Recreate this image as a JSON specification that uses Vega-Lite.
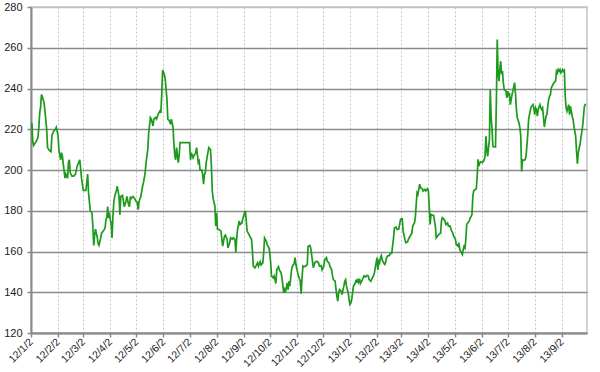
{
"$schema": "https://vega.github.io/schema/vega-lite/v6.json",
"width": 556, "height": 326,
"autosize": {"type": "none"},
"padding": {"left": 31, "top": 7, "right": 13, "bottom": 39},
"background": "white",
"config": {"view": {"stroke": "#c4c4c4", "strokeWidth": 1.5}},
"data": {"values": [
{"date":"2012-01-03","price":223},{"date":"2012-01-04","price":214},{"date":"2012-01-05","price":212},{"date":"2012-01-08","price":214},{"date":"2012-01-10","price":216},{"date":"2012-01-11","price":221},{"date":"2012-01-12","price":228},{"date":"2012-01-13","price":231},{"date":"2012-01-14","price":237},{"date":"2012-01-15","price":236},{"date":"2012-01-17","price":233},{"date":"2012-01-18","price":229},{"date":"2012-01-20","price":220},{"date":"2012-01-21","price":211},{"date":"2012-01-23","price":209.6},{"date":"2012-01-25","price":209},{"date":"2012-01-26","price":217},{"date":"2012-01-28","price":219},{"date":"2012-01-30","price":220},{"date":"2012-01-31","price":221},
{"date":"2012-02-02","price":217},{"date":"2012-02-03","price":210},{"date":"2012-02-05","price":205},{"date":"2012-02-06","price":208.5},{"date":"2012-02-07","price":207},{"date":"2012-02-08","price":203},{"date":"2012-02-10","price":196},{"date":"2012-02-11","price":198},{"date":"2012-02-13","price":196},{"date":"2012-02-14","price":204},{"date":"2012-02-15","price":205},{"date":"2012-02-16","price":198.6},{"date":"2012-02-18","price":197},{"date":"2012-02-20","price":197},{"date":"2012-02-22","price":198},{"date":"2012-02-24","price":202},{"date":"2012-02-26","price":204},{"date":"2012-02-27","price":205},{"date":"2012-02-29","price":196},
{"date":"2012-03-02","price":190},{"date":"2012-03-05","price":190},{"date":"2012-03-07","price":198},{"date":"2012-03-08","price":189},{"date":"2012-03-10","price":180},{"date":"2012-03-12","price":179},{"date":"2012-03-13","price":172},{"date":"2012-03-14","price":163},{"date":"2012-03-15","price":168},{"date":"2012-03-16","price":171},{"date":"2012-03-18","price":167},{"date":"2012-03-19","price":164},{"date":"2012-03-20","price":163},{"date":"2012-03-22","price":166.6},{"date":"2012-03-23","price":169},{"date":"2012-03-25","price":170},{"date":"2012-03-27","price":171.5},{"date":"2012-03-28","price":175.6},{"date":"2012-03-29","price":176.5},{"date":"2012-03-30","price":182},{"date":"2012-03-31","price":176.5},
{"date":"2012-04-01","price":179},{"date":"2012-04-02","price":175.6},{"date":"2012-04-03","price":174},{"date":"2012-04-04","price":166.6},{"date":"2012-04-05","price":177},{"date":"2012-04-06","price":184},{"date":"2012-04-07","price":187},{"date":"2012-04-09","price":190},{"date":"2012-04-10","price":192},{"date":"2012-04-12","price":187},{"date":"2012-04-13","price":178},{"date":"2012-04-14","price":187},{"date":"2012-04-16","price":187.5},{"date":"2012-04-18","price":182},{"date":"2012-04-20","price":184.6},{"date":"2012-04-21","price":187},{"date":"2012-04-23","price":183},{"date":"2012-04-24","price":182},{"date":"2012-04-25","price":187},{"date":"2012-04-26","price":186},{"date":"2012-04-28","price":187},{"date":"2012-04-30","price":186},
{"date":"2012-05-01","price":185},{"date":"2012-05-03","price":184},{"date":"2012-05-04","price":180.5},{"date":"2012-05-05","price":184.6},{"date":"2012-05-07","price":187},{"date":"2012-05-09","price":192},{"date":"2012-05-10","price":193.7},{"date":"2012-05-12","price":198.6},{"date":"2012-05-13","price":203.6},{"date":"2012-05-15","price":210},{"date":"2012-05-16","price":218},{"date":"2012-05-18","price":225.7},{"date":"2012-05-19","price":225},{"date":"2012-05-21","price":221.6},{"date":"2012-05-22","price":225},{"date":"2012-05-24","price":225.7},{"date":"2012-05-25","price":225},{"date":"2012-05-27","price":227.4},{"date":"2012-05-29","price":229},{"date":"2012-05-30","price":228},{"date":"2012-05-31","price":237},
{"date":"2012-06-01","price":249},{"date":"2012-06-03","price":247},{"date":"2012-06-04","price":244.6},{"date":"2012-06-06","price":234.7},{"date":"2012-06-07","price":225},{"date":"2012-06-09","price":224},{"date":"2012-06-10","price":222.4},{"date":"2012-06-11","price":225},{"date":"2012-06-13","price":221},{"date":"2012-06-14","price":212.6},{"date":"2012-06-15","price":207},{"date":"2012-06-16","price":205},{"date":"2012-06-17","price":211},{"date":"2012-06-19","price":203.6},{"date":"2012-06-20","price":207},{"date":"2012-06-21","price":213.4},
{"date":"2012-07-02","price":213.4},{"date":"2012-07-03","price":205},{"date":"2012-07-04","price":208.5},{"date":"2012-07-06","price":206},{"date":"2012-07-07","price":207},{"date":"2012-07-09","price":208.5},{"date":"2012-07-10","price":211},{"date":"2012-07-12","price":203.6},{"date":"2012-07-13","price":204.4},{"date":"2012-07-14","price":200},{"date":"2012-07-16","price":200},{"date":"2012-07-17","price":197.8},{"date":"2012-07-18","price":193},{"date":"2012-07-19","price":197.8},{"date":"2012-07-20","price":198.6},{"date":"2012-07-21","price":203.6},{"date":"2012-07-23","price":208.5},{"date":"2012-07-24","price":211},{"date":"2012-07-26","price":210},{"date":"2012-07-27","price":202},{"date":"2012-07-28","price":190},{"date":"2012-07-29","price":186},{"date":"2012-07-31","price":182.3},
{"date":"2012-08-01","price":172.5},{"date":"2012-08-02","price":179},{"date":"2012-08-03","price":170.8},{"date":"2012-08-05","price":170.8},{"date":"2012-08-07","price":170},{"date":"2012-08-08","price":166},{"date":"2012-08-09","price":162.6},{"date":"2012-08-11","price":167.5},{"date":"2012-08-12","price":168},{"date":"2012-08-14","price":166},{"date":"2012-08-15","price":161.8},{"date":"2012-08-17","price":164.3},{"date":"2012-08-18","price":166.7},{"date":"2012-08-20","price":166},{"date":"2012-08-21","price":166.7},{"date":"2012-08-23","price":166},{"date":"2012-08-24","price":159.7},{"date":"2012-08-25","price":166},{"date":"2012-08-26","price":170.8},{"date":"2012-08-28","price":175},{"date":"2012-08-29","price":173.3},{"date":"2012-08-31","price":174},
{"date":"2012-09-01","price":176},{"date":"2012-09-03","price":179},{"date":"2012-09-04","price":180},{"date":"2012-09-05","price":175},{"date":"2012-09-06","price":170},{"date":"2012-09-08","price":168.4},{"date":"2012-09-09","price":167.5},{"date":"2012-09-11","price":166},{"date":"2012-09-12","price":161},{"date":"2012-09-13","price":152.8},{"date":"2012-09-15","price":152},{"date":"2012-09-16","price":152.8},{"date":"2012-09-18","price":154.4},{"date":"2012-09-19","price":152.8},{"date":"2012-09-21","price":155},{"date":"2012-09-22","price":153.4},{"date":"2012-09-24","price":154.4},{"date":"2012-09-25","price":159.3},{"date":"2012-09-26","price":166.7},{"date":"2012-09-28","price":165},{"date":"2012-09-29","price":163.4},
{"date":"2012-10-01","price":161.8},{"date":"2012-10-02","price":159.3},{"date":"2012-10-03","price":154.4},{"date":"2012-10-04","price":148},{"date":"2012-10-06","price":147},{"date":"2012-10-07","price":148},{"date":"2012-10-09","price":144.3},{"date":"2012-10-10","price":151},{"date":"2012-10-12","price":152.5},{"date":"2012-10-13","price":151},{"date":"2012-10-15","price":149.5},{"date":"2012-10-16","price":147},{"date":"2012-10-18","price":139.7},{"date":"2012-10-19","price":141.3},{"date":"2012-10-20","price":140},{"date":"2012-10-22","price":144.6},{"date":"2012-10-23","price":141.3},{"date":"2012-10-24","price":145.4},{"date":"2012-10-25","price":143},{"date":"2012-10-27","price":151},{"date":"2012-10-28","price":152.8},{"date":"2012-10-30","price":154},{"date":"2012-10-31","price":157},
{"date":"2012-11-01","price":153.6},{"date":"2012-11-03","price":149.5},{"date":"2012-11-04","price":148},{"date":"2012-11-06","price":145.4},{"date":"2012-11-07","price":139.3},{"date":"2012-11-08","price":147},{"date":"2012-11-09","price":152.8},{"date":"2012-11-10","price":152.5},{"date":"2012-11-12","price":152.8},{"date":"2012-11-14","price":153.6},{"date":"2012-11-15","price":162.6},{"date":"2012-11-17","price":163},{"date":"2012-11-18","price":161.8},{"date":"2012-11-20","price":155.2},{"date":"2012-11-21","price":152},{"date":"2012-11-22","price":153.6},{"date":"2012-11-23","price":154.8},{"date":"2012-11-25","price":155.2},{"date":"2012-11-27","price":154.4},{"date":"2012-11-28","price":152.8},{"date":"2012-11-30","price":153.1},
{"date":"2012-12-01","price":151},{"date":"2012-12-03","price":152.8},{"date":"2012-12-04","price":156},{"date":"2012-12-06","price":157},{"date":"2012-12-07","price":155.2},{"date":"2012-12-09","price":154.4},{"date":"2012-12-10","price":152.8},{"date":"2012-12-12","price":151},{"date":"2012-12-13","price":148},{"date":"2012-12-14","price":146.2},{"date":"2012-12-16","price":145.4},{"date":"2012-12-17","price":141.3},{"date":"2012-12-18","price":138},{"date":"2012-12-19","price":135.6},{"date":"2012-12-20","price":139.7},{"date":"2012-12-21","price":141.3},{"date":"2012-12-23","price":140.5},{"date":"2012-12-24","price":138.9},{"date":"2012-12-25","price":141.3},{"date":"2012-12-26","price":143},{"date":"2012-12-27","price":145.4},{"date":"2012-12-28","price":146.2},{"date":"2012-12-29","price":143},{"date":"2012-12-31","price":139.7},
{"date":"2013-01-01","price":136.4},{"date":"2013-01-02","price":134},{"date":"2013-01-03","price":134.8},{"date":"2013-01-04","price":136.4},{"date":"2013-01-05","price":139.7},{"date":"2013-01-06","price":143},{"date":"2013-01-08","price":144.3},{"date":"2013-01-09","price":146.2},{"date":"2013-01-10","price":144.6},{"date":"2013-01-11","price":146.6},{"date":"2013-01-12","price":145},{"date":"2013-01-13","price":146.6},{"date":"2013-01-14","price":144.3},{"date":"2013-01-16","price":146},{"date":"2013-01-17","price":147},{"date":"2013-01-18","price":148},{"date":"2013-01-20","price":147.5},{"date":"2013-01-21","price":148.2},{"date":"2013-01-23","price":148},{"date":"2013-01-24","price":146.2},{"date":"2013-01-26","price":145.4},{"date":"2013-01-27","price":146.6},{"date":"2013-01-29","price":148},{"date":"2013-01-30","price":149.5},
{"date":"2013-02-01","price":154.4},{"date":"2013-02-02","price":157},{"date":"2013-02-03","price":151},{"date":"2013-02-04","price":155.2},{"date":"2013-02-05","price":154.4},{"date":"2013-02-06","price":157},{"date":"2013-02-07","price":158},{"date":"2013-02-08","price":156},{"date":"2013-02-09","price":154.8},{"date":"2013-02-11","price":153.6},{"date":"2013-02-12","price":154.8},{"date":"2013-02-13","price":157},{"date":"2013-02-14","price":157.7},{"date":"2013-02-15","price":158},{"date":"2013-02-16","price":158},{"date":"2013-02-18","price":159.3},{"date":"2013-02-19","price":159.3},{"date":"2013-02-21","price":166.7},{"date":"2013-02-22","price":171.6},{"date":"2013-02-24","price":172},{"date":"2013-02-25","price":170.8},{"date":"2013-02-27","price":171},
{"date":"2013-03-01","price":175.7},{"date":"2013-03-02","price":176},{"date":"2013-03-03","price":176},{"date":"2013-03-04","price":170},{"date":"2013-03-06","price":166},{"date":"2013-03-07","price":164.3},{"date":"2013-03-09","price":164.6},{"date":"2013-03-10","price":166},{"date":"2013-03-12","price":167.5},{"date":"2013-03-14","price":169},{"date":"2013-03-15","price":172.5},{"date":"2013-03-17","price":174},{"date":"2013-03-18","price":176.6},{"date":"2013-03-19","price":183},{"date":"2013-03-20","price":188.8},{"date":"2013-03-21","price":188},{"date":"2013-03-23","price":193},{"date":"2013-03-24","price":191.3},{"date":"2013-03-26","price":190.8},{"date":"2013-03-27","price":189.7},{"date":"2013-03-29","price":190.5},{"date":"2013-03-30","price":189.7},
{"date":"2013-04-01","price":190.8},{"date":"2013-04-02","price":189.7},{"date":"2013-04-03","price":181.5},{"date":"2013-04-04","price":173.3},{"date":"2013-04-05","price":178.2},{"date":"2013-04-07","price":177.7},{"date":"2013-04-08","price":177.7},{"date":"2013-04-10","price":172.5},{"date":"2013-04-11","price":166.7},{"date":"2013-04-13","price":167.9},{"date":"2013-04-14","price":168.4},{"date":"2013-04-16","price":169},{"date":"2013-04-17","price":175},{"date":"2013-04-18","price":176.6},{"date":"2013-04-20","price":175.7},{"date":"2013-04-21","price":175},{"date":"2013-04-22","price":173.3},{"date":"2013-04-24","price":174},{"date":"2013-04-25","price":172.5},{"date":"2013-04-27","price":172.5},{"date":"2013-04-28","price":170.8},{"date":"2013-04-30","price":169},
{"date":"2013-05-01","price":167.5},{"date":"2013-05-03","price":166},{"date":"2013-05-04","price":163.4},{"date":"2013-05-06","price":162.6},{"date":"2013-05-07","price":164.3},{"date":"2013-05-08","price":161},{"date":"2013-05-09","price":160.2},{"date":"2013-05-11","price":158.5},{"date":"2013-05-12","price":161},{"date":"2013-05-13","price":162.6},{"date":"2013-05-14","price":161.8},{"date":"2013-05-15","price":166},{"date":"2013-05-16","price":173.3},{"date":"2013-05-17","price":174},{"date":"2013-05-19","price":175},{"date":"2013-05-20","price":176.6},{"date":"2013-05-21","price":177},{"date":"2013-05-22","price":178.2},{"date":"2013-05-23","price":187.2},{"date":"2013-05-24","price":189.7},{"date":"2013-05-25","price":190.2},{"date":"2013-05-27","price":190.8},{"date":"2013-05-28","price":197},{"date":"2013-05-29","price":205.2},{"date":"2013-05-30","price":202},{"date":"2013-05-31","price":203.6},
{"date":"2013-06-01","price":204},{"date":"2013-06-03","price":203.6},{"date":"2013-06-05","price":205},{"date":"2013-06-06","price":206.7},{"date":"2013-06-07","price":216.6},{"date":"2013-06-08","price":210},{"date":"2013-06-09","price":206.7},{"date":"2013-06-11","price":215},{"date":"2013-06-12","price":239.5},{"date":"2013-06-13","price":226.4},{"date":"2013-06-14","price":219.8},{"date":"2013-06-15","price":211.6},{"date":"2013-06-16","price":211.3},{"date":"2013-06-18","price":211.3},{"date":"2013-06-19","price":233},{"date":"2013-06-20","price":264},{"date":"2013-06-21","price":247.7},{"date":"2013-06-22","price":243.6},{"date":"2013-06-23","price":249.3},{"date":"2013-06-24","price":253.4},{"date":"2013-06-25","price":247},{"date":"2013-06-26","price":248.5},{"date":"2013-06-27","price":242.8},{"date":"2013-06-28","price":239.5},{"date":"2013-06-30","price":238.7},
{"date":"2013-07-01","price":235.4},{"date":"2013-07-02","price":238.7},{"date":"2013-07-03","price":236.2},{"date":"2013-07-04","price":237.9},{"date":"2013-07-05","price":232.1},{"date":"2013-07-07","price":237},{"date":"2013-07-08","price":238.7},{"date":"2013-07-09","price":241.1},{"date":"2013-07-10","price":242.8},{"date":"2013-07-11","price":237},{"date":"2013-07-12","price":229.7},{"date":"2013-07-13","price":225.6},{"date":"2013-07-15","price":223.1},{"date":"2013-07-16","price":220.7},{"date":"2013-07-17","price":216.6},{"date":"2013-07-18","price":199.3},{"date":"2013-07-19","price":205},{"date":"2013-07-20","price":204.7},{"date":"2013-07-22","price":205},{"date":"2013-07-23","price":206.7},{"date":"2013-07-24","price":211.6},{"date":"2013-07-25","price":217.4},{"date":"2013-07-26","price":224.8},{"date":"2013-07-27","price":227.2},{"date":"2013-07-28","price":229.3},{"date":"2013-07-29","price":231},{"date":"2013-07-31","price":232.1},
{"date":"2013-08-01","price":230.5},{"date":"2013-08-02","price":227.2},{"date":"2013-08-03","price":230.5},{"date":"2013-08-04","price":229.7},{"date":"2013-08-05","price":226.4},{"date":"2013-08-06","price":229.7},{"date":"2013-08-08","price":232.1},{"date":"2013-08-09","price":230.5},{"date":"2013-08-10","price":229.7},{"date":"2013-08-11","price":230.5},{"date":"2013-08-12","price":226.4},{"date":"2013-08-13","price":221.1},{"date":"2013-08-15","price":226.4},{"date":"2013-08-16","price":227.2},{"date":"2013-08-17","price":231.3},{"date":"2013-08-18","price":234.6},{"date":"2013-08-19","price":236.2},{"date":"2013-08-20","price":237},{"date":"2013-08-21","price":240.3},{"date":"2013-08-22","price":241.1},{"date":"2013-08-23","price":242},{"date":"2013-08-24","price":242.8},{"date":"2013-08-26","price":243.6},{"date":"2013-08-27","price":248.5},{"date":"2013-08-28","price":247.7},{"date":"2013-08-29","price":249.3},{"date":"2013-08-30","price":248.5},{"date":"2013-08-31","price":249.3},
{"date":"2013-09-01","price":247.7},{"date":"2013-09-03","price":249.3},{"date":"2013-09-04","price":248.5},{"date":"2013-09-05","price":249},{"date":"2013-09-06","price":236.2},{"date":"2013-09-07","price":230.5},{"date":"2013-09-08","price":228.9},{"date":"2013-09-10","price":232.1},{"date":"2013-09-11","price":227.2},{"date":"2013-09-12","price":231.3},{"date":"2013-09-13","price":228.9},{"date":"2013-09-14","price":226.4},{"date":"2013-09-15","price":224.8},{"date":"2013-09-16","price":221.5},{"date":"2013-09-18","price":216.6},{"date":"2013-09-19","price":209.2},{"date":"2013-09-20","price":203.1},{"date":"2013-09-21","price":208.4},{"date":"2013-09-22","price":210.8},{"date":"2013-09-23","price":212.5},{"date":"2013-09-24","price":215.7},{"date":"2013-09-26","price":221.5},{"date":"2013-09-27","price":226.4},{"date":"2013-09-28","price":231.3},{"date":"2013-09-29","price":232.1},{"date":"2013-09-30","price":232}
]},
"mark": {"type": "line", "color": "#1b9a1b", "strokeWidth": 1.7, "clip": true},
"encoding": {
"x": {"field": "date", "type": "temporal",
 "scale": {"type": "utc", "domain": [{"year": 2012, "month": 1, "date": 2, "utc": true}, {"year": 2013, "month": 10, "date": 1, "utc": true}]},
 "axis": {"title": null, "labelExpr": "utcFormat(datum.value, '%y/%-m/%-d')",
  "values": [
   {"year":2012,"month":1,"date":2,"utc":true},{"year":2012,"month":2,"date":2,"utc":true},{"year":2012,"month":3,"date":2,"utc":true},{"year":2012,"month":4,"date":2,"utc":true},{"year":2012,"month":5,"date":2,"utc":true},{"year":2012,"month":6,"date":2,"utc":true},{"year":2012,"month":7,"date":2,"utc":true},{"year":2012,"month":8,"date":2,"utc":true},{"year":2012,"month":9,"date":2,"utc":true},{"year":2012,"month":10,"date":2,"utc":true},{"year":2012,"month":11,"date":2,"utc":true},{"year":2012,"month":12,"date":2,"utc":true},
   {"year":2013,"month":1,"date":2,"utc":true},{"year":2013,"month":2,"date":2,"utc":true},{"year":2013,"month":3,"date":2,"utc":true},{"year":2013,"month":4,"date":2,"utc":true},{"year":2013,"month":5,"date":2,"utc":true},{"year":2013,"month":6,"date":2,"utc":true},{"year":2013,"month":7,"date":2,"utc":true},{"year":2013,"month":8,"date":2,"utc":true},{"year":2013,"month":9,"date":2,"utc":true}],
  "labelAngle": -45, "labelAlign": "right", "labelBaseline": "middle", "labelFont": "Liberation Sans", "labelFontSize": 10.5, "labelColor": "#222", "labelPadding": 3, "labelOverlap": false, "labelFlush": false,
  "grid": true, "gridDash": [2, 2], "gridColor": "#c4c4c4", "gridWidth": 1,
  "tickColor": "#888", "tickSize": 4, "tickWidth": 1.5, "domainColor": "#888", "domainWidth": 2}},
"y": {"field": "price", "type": "quantitative",
 "scale": {"domain": [120, 280], "nice": false, "zero": false},
 "axis": {"title": null, "values": [120, 140, 160, 180, 200, 220, 240, 260, 280],
  "labelFont": "Liberation Sans", "labelFontSize": 11, "labelColor": "#222", "labelPadding": 5,
  "grid": true, "gridColor": {"condition": {"test": "datum.value == 280", "value": "#c4c4c4"}, "value": "#8a8a8a"}, "gridWidth": 1.6,
  "tickColor": "#888", "tickSize": 4, "tickWidth": 1.5, "domainColor": "#888", "domainWidth": 2}}
}
}
